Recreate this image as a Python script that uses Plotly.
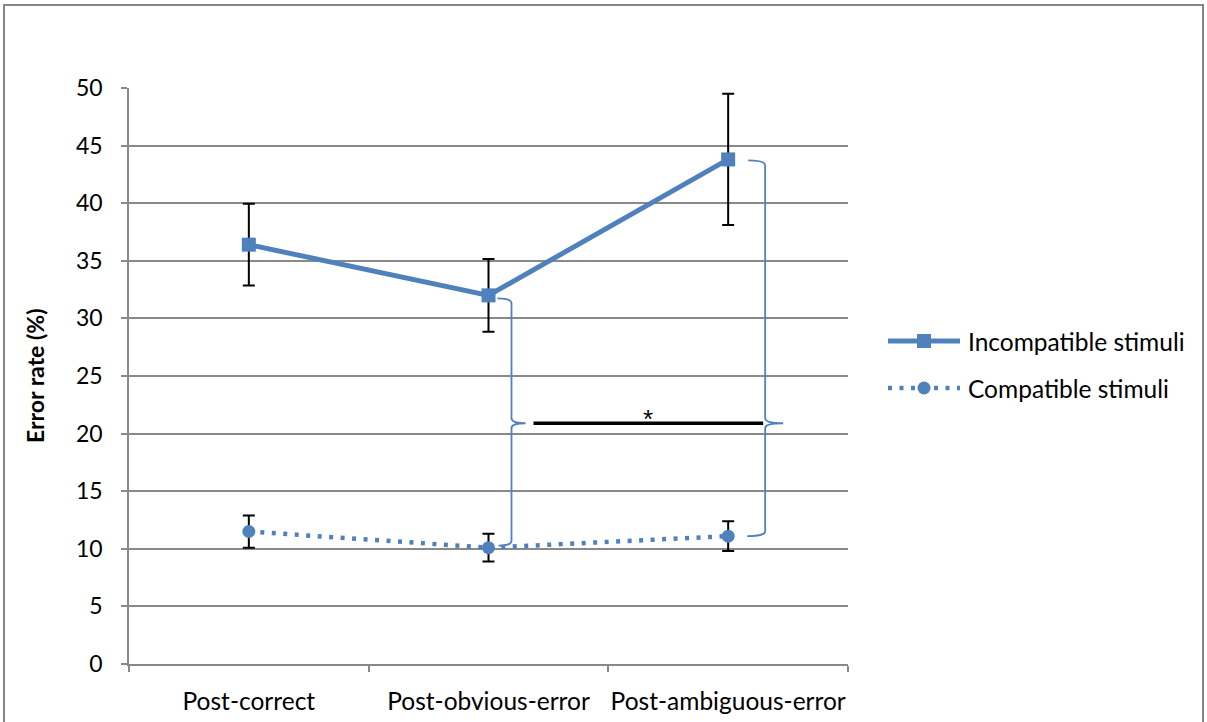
import plotly.graph_objects as go

# ---- data -------------------------------------------------------------
categories = ["Post-correct", "Post-obvious-error", "Post-ambiguous-error"]
incompatible = [36.4, 32.0, 43.8]
incompatible_err = [3.55, 3.15, 5.7]
compatible = [11.5, 10.1, 11.1]
compatible_err = [1.4, 1.2, 1.3]
y_ticks = [0, 5, 10, 15, 20, 25, 30, 35, 40, 45, 50]
series_names = ["Incompatible stimuli", "Compatible stimuli"]
sig_level = 20.9
sig_label = "*"

# ---- layout geometry (pixels) -----------------------------------------
W, H = 1207, 722
PL, PR, PT, PB = 129, 848, 88, 664      # plot-area box
BLUE = "#4F81BD"
GRID = "#898989"
FONT = "Lato"
FS = 24.5

px_x = (PR - PL) / 3.0                  # pixels per category step
px_y = (PB - PT) / 50.0                 # pixels per y unit
dx = lambda p: p / px_x
dy = lambda p: p / px_y

xs = list(range(len(categories)))

fig = go.Figure()

fig.add_trace(go.Scatter(
    x=xs, y=incompatible, name=series_names[0], mode="lines+markers",
    line=dict(color=BLUE, width=5),
    marker=dict(symbol="square", size=14, color=BLUE),
    error_y=dict(type="data", array=incompatible_err, visible=True,
                 color="black", thickness=2, width=6),
    showlegend=False, hoverinfo="skip"))

fig.add_trace(go.Scatter(
    x=xs, y=compatible, name=series_names[1], mode="lines+markers",
    line=dict(color=BLUE, width=4.5, dash="4px,7.5px"),
    marker=dict(symbol="circle", size=13, color=BLUE),
    error_y=dict(type="data", array=compatible_err, visible=True,
                 color="black", thickness=2, width=6),
    showlegend=False, hoverinfo="skip"))


def brace(stem, top, bot, tip_y, top_hook, bot_hook, tip_len):
    ry = dy(5)
    return (f"M {top_hook},{top} Q {stem},{top} {stem},{top - ry} "
            f"L {stem},{tip_y + ry} Q {stem},{tip_y} {stem + tip_len},{tip_y} "
            f"Q {stem},{tip_y} {stem},{tip_y - ry} "
            f"L {stem},{bot + ry} Q {stem},{bot} {bot_hook},{bot}")


shapes = []
# braces grouping the incompatible/compatible pair of each error condition
shapes.append(dict(type="path", xref="x", yref="y",
                   path=brace(1 + dx(23), incompatible[1] - dy(3), compatible[1] + dy(2),
                              sig_level, 1 + dx(9), 1 + dx(10), dx(14)),
                   line=dict(color=BLUE, width=1.8)))
shapes.append(dict(type="path", xref="x", yref="y",
                   path=brace(2 + dx(37), incompatible[2] - dy(1), compatible[2],
                              sig_level, 2 + dx(20), 2 + dx(19), dx(18)),
                   line=dict(color=BLUE, width=1.8)))
# significance bar
shapes.append(dict(type="line", xref="x", yref="y",
                   x0=1 + dx(45), x1=2 + dx(35), y0=sig_level, y1=sig_level,
                   line=dict(color="black", width=3.5)))
# outer frame
shapes.append(dict(type="rect", xref="paper", yref="paper",
                   x0=4 / W, x1=1203 / W, y0=-0.05, y1=1 - 5 / H,
                   line=dict(color="#868686", width=2), fillcolor="rgba(0,0,0,0)"))

annotations = [
    dict(x=(1 + dx(45) + 2 + dx(35)) / 2, y=sig_level, xref="x", yref="y",
         text=sig_label, showarrow=False, yshift=4,
         font=dict(family="Liberation Sans", size=26, color="black")),
    dict(x=35 / W, y=1 - (PT + PB) / 2 / H, xref="paper", yref="paper",
         xanchor="center", yanchor="middle",
         text="<b>Error rate (%)</b>", textangle=-90, showarrow=False,
         font=dict(family=FONT, size=23, color="black")),
]

# ---- legend (drawn on a full-figure pixel overlay) ----------------------
leg_rows = [341, 388]
fig.add_trace(go.Scatter(x=[888, 960], y=[leg_rows[0]] * 2, mode="lines",
                         line=dict(color=BLUE, width=5), xaxis="x2", yaxis="y2",
                         showlegend=False, hoverinfo="skip"))
fig.add_trace(go.Scatter(x=[924], y=[leg_rows[0]], mode="markers",
                         marker=dict(symbol="square", size=14, color=BLUE),
                         xaxis="x2", yaxis="y2", showlegend=False, hoverinfo="skip"))
fig.add_trace(go.Scatter(x=[888, 960], y=[leg_rows[1]] * 2, mode="lines",
                         line=dict(color=BLUE, width=4.5, dash="4px,7.5px"),
                         xaxis="x2", yaxis="y2", showlegend=False, hoverinfo="skip"))
fig.add_trace(go.Scatter(x=[924], y=[leg_rows[1]], mode="markers",
                         marker=dict(symbol="circle", size=13, color=BLUE),
                         xaxis="x2", yaxis="y2", showlegend=False, hoverinfo="skip"))
for name, row in zip(series_names, leg_rows):
    annotations.append(dict(x=966 / W, y=1 - row / H, xref="paper", yref="paper",
                            text=name, showarrow=False, xanchor="left", yanchor="middle",
                            font=dict(family=FONT, size=FS, color="black")))

fig.update_layout(
    template="none",
    width=W, height=H,
    margin=dict(l=0, r=0, t=0, b=0, pad=0, autoexpand=False),
    paper_bgcolor="white", plot_bgcolor="rgba(0,0,0,0)",
    font=dict(family=FONT, size=FS, color="black"),
    shapes=shapes, annotations=annotations,
    xaxis=dict(domain=[PL / W, PR / W], range=[-0.5, 2.5], automargin=False,
               tickvals=xs, ticktext=categories, ticks="",
               showgrid=False, zeroline=False,
               showline=True, linecolor=GRID, linewidth=1.5,
               ticklabelstandoff=15,
               minor=dict(tickvals=[-0.5, 0.5, 1.5, 2.5], ticks="outside",
                          ticklen=6, tickcolor=GRID, tickwidth=1.5, showgrid=False),
               tickfont=dict(family=FONT, size=FS, color="black")),
    yaxis=dict(domain=[(H - PB) / H, (H - PT) / H], range=[0, 50], automargin=False,
               tickvals=y_ticks, ticks="outside", ticklen=6, tickcolor=GRID,
               tickwidth=1.5, showgrid=True, gridcolor=GRID, gridwidth=1.5,
               zeroline=False, showline=True, linecolor=GRID, linewidth=1.5,
               ticklabelstandoff=14,
               tickfont=dict(family=FONT, size=23, color="black")),
    xaxis2=dict(domain=[0, 1], range=[0, W], visible=False, anchor="y2",
                automargin=False),
    yaxis2=dict(domain=[0, 1], range=[H, 0], visible=False, anchor="x2",
                automargin=False),
)

fig.write_html("out.html")
